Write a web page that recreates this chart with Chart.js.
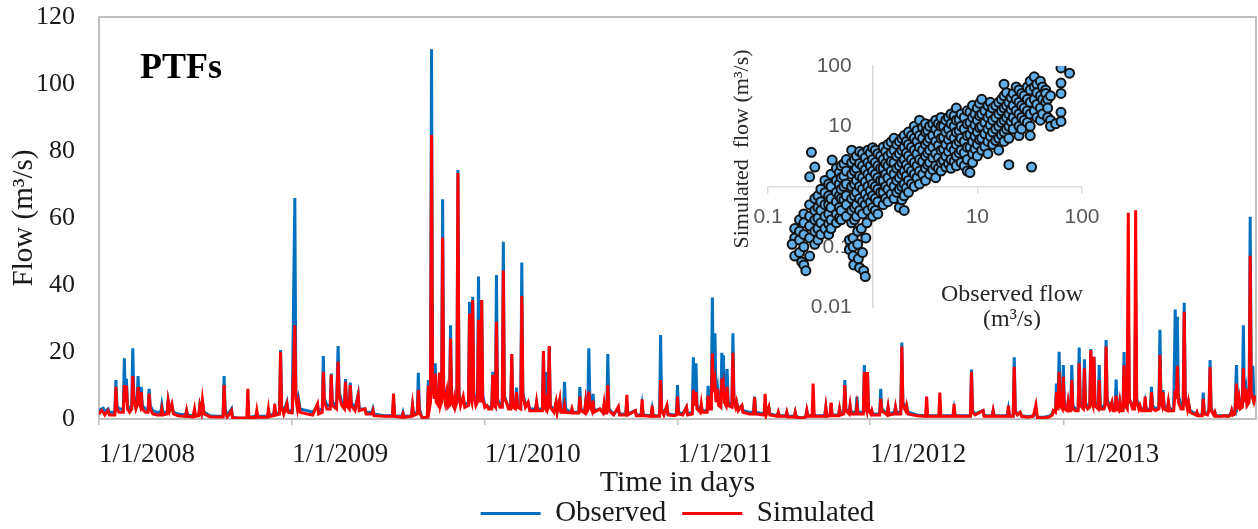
<!DOCTYPE html>
<html>
<head>
<meta charset="utf-8">
<title>PTFs – observed vs simulated flow</title>
<script src="https://cdn.jsdelivr.net/npm/chart.js@4.4.1/dist/chart.umd.min.js"></script>
<style>
  html, body { margin: 0; background: #fff; overflow: hidden; }
  #wrap { position: relative; width: 1258px; height: 529px; overflow: hidden; }
  #flow { position: absolute; left: 0; top: 0; }
  #inset { position: absolute; left: 700px; top: 30px; }
</style>
</head>
<body>
<div id="wrap">
  <canvas id="flow" width="1258" height="538"></canvas>
  <canvas id="inset" width="420" height="300"></canvas>
</div>
<script>
// days counted from 1/1/2008
const yearTicks = [0, 366, 731, 1096, 1461, 1827];
const yearLabels = ['1/1/2008', '1/1/2009', '1/1/2010', '1/1/2011', '1/1/2012', '1/1/2013'];

// [day, flow m3/s]
const observed = [
  [0,2.5],[5,3],[8,3.2],[11,2.2],[17,3],[20,2],[30,2],[32,11.6],[34,4],[38,3],[46,3],[48,18.1],[50,6],[52,12],[54,4],[58,3],[62,4],[64,21.1],[66,7],[70,4],[72,5],[74,12.8],[76,6],[78,5],[80,9.6],[82,4],[88,3],[93,3],[95,9],[97,4],
  [102,2.5],[110,2],[117,2],[119,4.2],[121,2],[129,2],[131,5.5],[134,3],[138,4],[141,2],[150,1.5],[164,1.2],[166,2.5],[168,1.2],[178,1],[181,2],[183,1],[189,1.2],[191,4],[194,2],[196,5],[199,2],
  [210,1],[225,0.8],[235,0.8],[237,12.8],[239,3],[243,1],[251,3],[253,0.5],[265,0.2],[280,0.3],[282,2],[284,0.5],[297,0.8],[299,2],[301,0.8],[319,0.8],[321,2],[323,1],[331,1.5],[333,3],[335,1.5],[342,2],[344,20.6],[346,4],[350,2],[356,5],[358,2.5],[366,2.5],
  [371,66],[373,8],[376,4],[378,6],[381,3],[395,2.5],[405,2],[414,4],[416,2.5],[423,3],[425,18.8],[427,6],[432,4],[438,4],[440,13.6],[442,5],[450,4],[453,21.8],[455,8],[460,5],[465,4],[467,11.9],[469,5],[474,4],[476,10.9],[478,5],[485,3],[491,7.4],[493,3],
  [504,3],[506,2],[517,2],[519,3],[521,1.5],[540,1],[556,1],[558,6],[560,1],[574,0.8],[576,2],[578,0.8],[592,1],[594,4],[596,1.5],[603,2],[605,13.8],[607,3],[612,0.5],[620,0.3],[622,1],[624,11.6],[626,4],[628,6],
  [630,110.4],[632,12],[635,8],[637,16.6],[639,6],[643,5],[645,12],[647,5],[649,6],[651,65.6],[653,10],[656,6],[659,8],[661,4],[664,5],[666,28],[668,6],[671,5],[673,6],[675,4],[678,6],[680,74.3],[682,8],[685,5],[690,6],[693,4],
  [700,5],[702,35],[704,7],[706,6],[708,36.5],[710,8],[714,5],[717,6],[719,42.5],[721,8],[723,6],[725,35.5],[727,7],[731,4],[735,4],[738,3.5],[744,3.5],[746,14.1],[748,5],[751,4],[753,43],[755,6],[760,4],[764,4],[766,52.9],[768,7],[772,5],[776,3.5],[780,3.5],[782,19.4],[784,4],[789,3.5],[791,9.4],[793,4],[799,3.5],
  [801,46.7],[803,8],[808,4],[813,5],[816,3],[827,3],[829,5],[831,3],[840,3],[842,20],[844,4],[846,3.5],[848,14],[850,4],[851,4],[853,21.5],[855,4],[862,2.5],[866,5],[868,2.5],[873,5],[875,2.5],[880,2.5],[882,11.1],[884,3],[894,2],[896,3],[898,2],
  [909,2],[911,9.5],[913,3],[920,2],[922,5],[924,2.5],[926,3],[928,21.1],[930,5],[934,3],[936,7.5],[938,2.5],[949,3],[955,2],[957,4],[959,2],[962,2],[964,19.4],[966,3],[975,1.5],[984,3],[986,1.5],[998,1.5],
  [1000,5],[1002,1.5],[1016,2.5],[1018,1.2],[1027,1.2],[1029,4],[1031,1.2],[1046,1],[1048,3],[1050,1],[1062,1],[1064,25.1],[1066,3],[1070,1.5],[1076,4],[1078,1.5],[1090,1.2],[1094,1.5],[1096,10.1],[1098,2],
  [1106,1.5],[1113,3.5],[1115,1.5],[1124,2],[1126,18.4],[1128,5],[1131,16.6],[1133,4],[1139,2.5],[1141,4],[1143,2.5],[1152,2.5],[1154,9.9],[1156,4],[1160,3.5],[1162,36.3],[1164,10],[1167,25.6],[1169,6],[1172,9],[1174,5],[1178,4],[1180,19.8],[1181,10],[1183,19],[1185,6],[1188,5],[1190,14.9],[1192,5],[1199,4],
  [1201,25.6],[1203,6],[1206,4],[1208,5],[1211,3],[1218,4],[1220,2.5],[1232,2],[1240,2],[1242,6.7],[1244,2],[1260,1.5],[1262,4],[1264,1.5],[1269,3.5],[1271,1.5],[1285,1],[1287,2],[1289,1],
  [1301,1],[1303,2],[1305,0.8],[1317,0.8],[1319,2],[1321,0.7],[1331,0.3],[1339,0.8],[1341,2.5],[1343,1],[1351,1],[1353,3],[1355,1],[1375,1],[1377,3.5],[1379,1],[1385,1.2],[1387,4.5],[1389,1.2],
  [1401,1.2],[1403,3],[1405,1.5],[1411,2],[1413,11.6],[1415,3],[1421,2],[1423,4],[1425,2],[1434,2],[1436,6.7],[1438,2],[1448,2],[1450,16.1],[1452,4],[1454,3],[1456,14],[1458,3],[1462,2],[1464,2.5],[1466,1.5],[1479,1.5],[1481,9],[1483,3],[1493,1.5],[1495,3.5],[1497,1.5],
  [1507,2],[1509,3.5],[1511,2],[1519,2],[1521,22.8],[1523,5],[1528,3],[1530,4],[1533,2],[1550,1.2],[1566,1],[1568,2],[1570,1],[1591,1],[1593,2],[1595,1],
  [1618,1],[1620,3],[1622,1],[1640,1],[1651,1],[1653,14.8],[1655,2.5],[1660,1.5],[1675,2.5],[1677,1],[1692,1],[1694,2.5],[1696,1],
  [1721,1],[1723,3],[1725,1],[1732,1],[1734,18.4],[1736,2.5],[1740,1.5],[1745,2],[1748,1],[1760,0.7],[1770,1],[1775,2],[1778,0.5],[1789,0.5],
  [1800,0.8],[1806,1.5],[1808,2.5],[1812,2.5],[1814,10.6],[1816,4],[1817,4],[1819,20.1],[1821,5],[1825,4],[1827,16.1],[1829,4],[1834,3],[1836,5],[1838,3],[1841,3],[1843,16.1],[1845,4],[1850,3],[1855,3],[1857,21.3],[1859,5],[1865,4],[1867,17.8],[1869,5],[1873,3.5],[1877,4],[1879,20.9],[1881,6],[1883,5],[1885,18.6],[1887,5],[1893,3.5],[1895,16.1],[1897,4],
  [1904,3.5],[1906,5],[1908,23.6],[1910,6],[1915,3.5],[1919,5],[1921,3],[1925,3],[1927,11.8],[1929,4],[1932,3],[1934,5],[1936,3],[1940,3],[1942,20],[1944,5],[1948,4],[1950,35],[1952,6],[1955,5],[1958,4],[1962,4],[1964,35],[1966,6],[1970,3.5],[1972,4],[1975,3],[1980,3],[1982,5],[1984,3],[1992,3],[1994,9.6],[1996,4],
  [2002,3],[2008,3.5],[2010,26.6],[2012,6],[2014,5],[2016,8.6],[2018,4],[2024,3],[2026,5],[2028,3],[2036,3],[2039,32.7],[2041,10],[2043,30.5],[2045,7],[2050,4],[2054,4],[2056,34.7],[2058,7],[2062,4],[2064,5],[2067,2.5],[2078,1.5],[2080,2],[2082,1.2],[2090,1.2],[2092,7.9],[2094,2],
  [2100,1.5],[2103,3],[2105,17.6],[2107,3],[2112,1.5],[2114,2],[2116,1],[2128,1],[2130,1],[2140,1],[2144,1.5],[2146,2.5],[2148,1.5],[2152,2],[2155,16.1],[2157,4],[2160,6],[2162,3.5],[2166,4],[2168,28],[2170,6],[2173,9],[2175,5],[2179,6],[2181,60.4],[2183,10],[2186,15.9],[2188,6],[2191,7]
];

const simulated = [
  [0,1.5],[5,2.5],[8,2],[11,1.2],[17,2.5],[20,1.2],[30,1.2],[32,9.6],[34,3],[38,2],[46,2],[48,10.1],[50,5],[52,10],[54,3],[58,2],[62,3],[64,12.8],[66,6],[70,3],[72,4],[74,9.5],[76,5],[78,4],[80,8],[82,3],[88,2],[93,2],[95,7.6],[97,3],
  [102,1.5],[110,1.2],[117,1.2],[119,3],[121,1.2],[129,1.5],[131,5.4],[134,2.5],[138,4.5],[141,1.5],[150,1],[164,0.8],[166,2.5],[168,0.8],[178,0.6],[181,3],[183,0.8],[189,1],[191,4],[194,2],[196,5.5],[199,1.5],
  [210,0.7],[225,0.6],[235,0.6],[237,10.1],[239,2],[243,0.5],[251,2.5],[253,0.3],[265,0.3],[280,0.3],[282,9],[284,0.5],[297,0.4],[299,2.5],[301,0.5],[319,0.5],[321,3],[323,0.7],[331,1],[333,4.5],[335,1.2],[342,1.5],[344,20.1],[346,3.5],[350,1.5],[356,4.5],[358,2],[366,1.8],
  [371,28],[373,6],[376,3],[378,5],[381,2],[395,1.5],[405,1.2],[414,4.5],[416,1.5],[423,2],[425,14.1],[427,5],[432,3],[438,3],[440,13.3],[442,4],[450,3],[453,17.1],[455,7],[460,4],[465,3],[467,11.1],[469,4],[474,3],[476,10.1],[478,4],[485,2.5],[491,7],[493,2.5],
  [504,3],[506,1.5],[517,1.5],[519,2.5],[521,1],[540,0.8],[556,0.8],[558,7.6],[560,0.8],[574,0.5],[576,1.5],[578,0.5],[592,0.8],[594,4],[596,1],[603,1.5],[605,8.7],[607,2],[612,0.5],[620,0.4],[622,1],[624,10],[626,3],[628,5],
  [630,84.8],[632,10],[635,6],[637,13.6],[639,5],[643,4],[645,13.9],[647,4],[649,5],[651,54.2],[653,8],[656,5],[659,8],[661,3.5],[664,4],[666,24],[668,5],[671,4],[673,6],[675,3.5],[678,5],[680,73.4],[682,7],[685,4],[690,6.7],[693,3.5],
  [700,4],[702,31.5],[704,6],[706,5],[708,35.5],[710,7],[714,4],[717,5],[719,29.6],[721,7],[723,5],[725,35.5],[727,6],[731,3.5],[735,4],[738,3],[744,3],[746,13.1],[748,4],[751,3.5],[753,29],[755,5],[760,3.5],[764,3.5],[766,44.3],[768,6],[772,5],[776,3],[780,3],[782,19.4],[784,3.5],[789,3],[791,8],[793,3.5],[799,3],
  [801,36.7],[803,7],[808,3.5],[813,5],[816,2.5],[827,2.5],[829,5],[831,2.5],[840,2.5],[842,20.3],[844,3.5],[846,3],[848,5],[850,3],[851,3.5],[853,21.8],[855,3.5],[862,2],[866,5],[868,2],[873,6],[875,2],[880,2],[882,4],[884,2],[894,1.8],[896,3],[898,1.8],
  [909,1.8],[911,6.7],[913,2.5],[920,1.8],[922,5],[924,2],[926,2.5],[928,8.2],[930,4],[934,2.5],[936,5.5],[938,2],[949,3],[955,1.8],[957,4.5],[959,1.8],[962,1.8],[964,10.1],[966,2.5],[975,1.2],[984,3.7],[986,1.2],[998,1.2],
  [1000,7.2],[1002,1.2],[1016,2.5],[1018,1],[1027,1],[1029,5.9],[1031,1],[1046,0.8],[1048,4],[1050,0.8],[1062,0.8],[1064,11.6],[1066,2.5],[1070,1.2],[1076,4],[1078,1.2],[1090,1],[1094,1.2],[1096,6.7],[1098,1.5],
  [1106,1.2],[1113,3.5],[1115,1.2],[1124,1.5],[1126,8.7],[1128,4],[1131,8],[1133,3],[1139,2],[1141,4.5],[1143,2],[1152,2],[1154,7],[1156,3],[1160,3],[1162,19.6],[1164,8],[1167,11],[1169,5],[1172,9],[1174,4],[1178,3.5],[1180,12.1],[1181,8],[1183,10],[1185,5],[1188,4],[1190,9.6],[1192,4],[1199,3.5],
  [1201,19.8],[1203,5],[1206,3.5],[1208,5],[1211,2.5],[1218,4],[1220,2],[1232,1.5],[1240,1.5],[1242,6.5],[1244,1.5],[1260,1.2],[1262,7.5],[1264,1.2],[1269,3.5],[1271,1.2],[1285,0.8],[1287,2],[1289,0.8],
  [1301,0.8],[1303,2],[1305,0.6],[1317,0.6],[1319,2],[1321,0.5],[1331,0.3],[1339,0.6],[1341,2.5],[1343,0.8],[1351,0.8],[1353,10.6],[1355,0.8],[1375,0.8],[1377,3.5],[1379,0.8],[1385,1],[1387,4.9],[1389,1],
  [1401,1],[1403,3],[1405,1.2],[1411,1.5],[1413,10.1],[1415,2.5],[1421,1.5],[1423,4],[1425,1.5],[1434,1.5],[1436,4],[1438,1.5],[1448,1.5],[1450,14.1],[1452,3.5],[1454,2.5],[1456,14],[1458,2.5],[1462,1.5],[1464,2.5],[1466,1.2],[1479,1.2],[1481,6],[1483,2.5],[1493,1.2],[1495,3.5],[1497,1.2],
  [1507,1.5],[1509,3.5],[1511,1.5],[1519,1.5],[1521,21.6],[1523,4],[1528,2.5],[1530,4],[1533,1.5],[1550,1],[1566,0.8],[1568,6.7],[1570,0.8],[1591,0.8],[1593,7.9],[1595,0.8],
  [1618,0.8],[1620,4.5],[1622,0.8],[1640,0.8],[1651,0.8],[1653,14.1],[1655,2],[1660,1.2],[1675,2.5],[1677,0.8],[1692,0.8],[1694,2.5],[1696,0.8],
  [1721,0.8],[1723,4],[1725,0.8],[1732,0.8],[1734,15.6],[1736,2],[1740,1.2],[1745,2],[1748,0.8],[1760,0.5],[1770,0.8],[1775,4.2],[1778,0.4],[1789,0.4],
  [1800,0.6],[1806,1.2],[1808,2.5],[1812,2],[1814,8],[1816,3],[1817,3],[1819,14.1],[1821,4],[1825,3],[1827,12.6],[1829,3],[1834,2.5],[1836,5],[1838,2.5],[1841,2.5],[1843,11.6],[1845,3],[1850,2.5],[1855,2.5],[1857,16.6],[1859,4],[1865,3],[1867,15.1],[1869,4],[1873,3],[1877,3.5],[1879,20.6],[1881,5],[1883,4],[1885,18.6],[1887,4],[1893,3],[1895,11.6],[1897,3],
  [1904,3],[1906,4],[1908,21.6],[1910,5],[1915,3],[1919,5],[1921,2.5],[1925,2.5],[1927,7],[1929,3],[1932,2.5],[1934,5],[1936,2.5],[1940,2.5],[1942,16],[1944,4],[1948,3],[1950,61.6],[1952,5],[1955,5],[1958,3],[1962,3],[1964,62.3],[1966,5],[1970,3],[1972,4],[1975,2.5],[1980,2.5],[1982,6.7],[1984,2.5],[1992,2.5],[1994,8],[1996,3],
  [2002,2.5],[2008,3],[2010,19.1],[2012,5],[2014,4],[2016,8],[2018,3],[2024,2.5],[2026,5],[2028,2.5],[2036,2.5],[2039,8.6],[2041,6],[2043,15.9],[2045,5],[2050,3],[2054,3],[2056,32],[2058,6],[2062,3],[2064,5],[2067,2],[2078,1.2],[2080,2],[2082,1],[2090,1],[2092,6],[2094,1.5],
  [2100,1.2],[2103,2.5],[2105,15.4],[2107,2.5],[2112,1.2],[2114,2],[2116,0.8],[2128,0.8],[2130,1],[2140,0.8],[2144,1.2],[2146,2.5],[2148,1.2],[2152,1.5],[2155,10.6],[2157,3],[2160,6],[2162,3],[2166,3.5],[2168,15.1],[2170,5],[2173,9],[2175,4],[2179,5],[2181,48.7],[2183,8],[2186,6],[2188,5],[2191,7]
];

// inset: [observed, simulated] daily pairs (log-log)
const scatterPoints = [
  [0.18,0.2],[0.18,0.14],[0.17,0.11],[0.18,0.07],
  [0.2,0.28],[0.2,0.18],[0.2,0.13],[0.2,0.08],[0.21,0.056],
  [0.22,0.35],[0.22,0.25],[0.22,0.16],[0.22,0.1],[0.22,0.05],[0.23,0.04],
  [0.25,1.45],[0.25,0.5],[0.25,0.32],[0.25,0.22],[0.25,0.14],[0.25,0.07],[0.26,3.7],
  [0.28,2.1],[0.28,0.63],[0.28,0.4],[0.28,0.28],[0.28,0.18],[0.28,0.11],
  [0.3,0.7],[0.3,0.45],[0.3,0.3],[0.3,0.2],[0.3,0.13],
  [0.32,0.9],[0.32,0.56],[0.32,0.4],[0.32,0.25],[0.32,0.16],
  [0.35,1.26],[0.35,0.79],[0.35,0.5],[0.35,0.32],[0.35,0.2],
  [0.38,1.1],[0.38,0.7],[0.38,0.5],[0.38,0.35],[0.38,0.24],[0.38,0.16],
  [0.41,2.75],[0.4,1.6],[0.4,1.0],[0.4,0.63],[0.4,0.45],[0.4,0.28],[0.4,0.2],
  [0.45,2.0],[0.45,1.26],[0.45,0.8],[0.45,0.56],[0.45,0.35],[0.45,0.25],
  [0.48,1.7],[0.48,1.1],[0.48,0.7],[0.48,0.45],[0.48,0.3],
  [0.5,2.2],[0.5,1.4],[0.5,0.9],[0.5,0.63],[0.5,0.4],[0.5,0.28],
  [0.53,2.4],[0.53,1.5],[0.53,1.0],[0.53,0.6],
  [0.56,2.8],[0.56,1.8],[0.56,1.1],[0.56,0.7],[0.56,0.5],[0.56,0.32],[0.6,0.13],[0.6,0.09],
  [0.63,4.0],[0.63,2.5],[0.63,1.6],[0.63,1.0],[0.63,0.63],[0.63,0.4],[0.63,0.25],[0.65,0.14],[0.65,0.1],[0.65,0.07],[0.66,0.05],
  [0.67,2.8],[0.67,1.8],[0.67,1.1],[0.67,0.7],[0.67,0.45],[0.67,0.28],
  [0.7,3.2],[0.7,2.0],[0.7,1.26],[0.7,0.8],[0.7,0.5],[0.7,0.32],[0.72,0.18],[0.72,0.11],[0.73,0.063],[0.75,0.045],
  [0.75,3.8],[0.75,2.4],[0.75,1.5],[0.75,1.0],[0.75,0.63],[0.75,0.4],
  [0.8,3.5],[0.8,2.2],[0.8,1.4],[0.8,0.9],[0.8,0.56],[0.8,0.35],[0.78,0.2],[0.8,0.08],[0.82,0.04],[0.85,0.032],
  [0.85,3],[0.85,1.9],[0.85,1.2],[0.85,0.75],[0.85,0.5],
  [0.9,4.0],[0.9,2.5],[0.9,1.6],[0.9,1.0],[0.9,0.63],[0.9,0.4],[0.88,0.25],[0.86,0.14],
  [0.95,3.6],[0.95,2.2],[0.95,1.4],[0.95,0.85],[0.95,0.55],
  [1.0,4.4],[1.0,2.8],[1.0,1.8],[1.0,1.1],[1.0,0.7],[1.0,0.45],[1.0,0.32],
  [1.06,4],[1.06,2.5],[1.06,1.6],[1.06,1],[1.06,0.63],[1.06,0.4],
  [1.12,3.5],[1.12,2.2],[1.12,1.4],[1.12,0.9],[1.12,0.56],[1.12,0.35],
  [1.19,3.2],[1.19,2],[1.19,1.26],[1.19,0.8],
  [1.26,4.5],[1.26,2.8],[1.26,2.0],[1.26,1.26],[1.26,0.8],[1.26,0.5],
  [1.33,3.8],[1.33,2.4],[1.33,1.6],[1.33,1],[1.33,0.63],
  [1.4,5],[1.4,3.2],[1.4,2.2],[1.4,1.4],[1.4,0.9],[1.4,0.56],
  [1.5,5.5],[1.5,3.6],[1.5,2.6],[1.5,1.8],[1.5,1.15],[1.5,0.75],
  [1.6,6.3],[1.6,4],[1.6,2.5],[1.6,1.6],[1.6,1],[1.6,0.63],
  [1.7,5],[1.7,3.2],[1.7,2],[1.7,1.26],[1.7,0.8],
  [1.8,5.6],[1.8,3.5],[1.8,2.2],[1.8,1.4],[1.8,0.9],[1.8,0.45],
  [1.9,6.3],[1.9,4],[1.9,2.5],[1.9,1.6],[1.9,1],[1.9,0.6],
  [2,7],[2,4.5],[2,2.8],[2,1.8],[2,1.1],[2,0.7],[2,0.4],
  [2.1,5.6],[2.1,3.6],[2.1,2.3],[2.1,1.5],[2.1,0.95],
  [2.2,8],[2.2,5],[2.2,3.2],[2.2,2],[2.2,1.26],[2.2,0.8],
  [2.35,7],[2.35,4.5],[2.35,2.8],[2.35,1.8],[2.35,1.1],
  [2.5,10],[2.5,6.3],[2.5,4],[2.5,2.5],[2.5,1.6],[2.5,1],
  [2.65,8.5],[2.65,5.6],[2.65,3.5],[2.65,2.2],[2.65,1.4],
  [2.8,12.6],[2.8,7],[2.8,4.5],[2.8,2.8],[2.8,1.8],[2.8,1.1],
  [3,9.5],[3,6.3],[3,4],[3,2.6],[3,1.6],
  [3.2,11],[3.2,8],[3.2,5],[3.2,3.2],[3.2,2],[3.2,1.26],
  [3.35,8.5],[3.35,5.6],[3.35,3.6],[3.35,2.3],
  [3.5,10],[3.5,6.3],[3.5,4],[3.5,2.5],[3.5,1.6],
  [3.75,11],[3.75,7],[3.75,4.5],[3.75,3],[3.75,1.9],
  [4,12.6],[4,9],[4,5.6],[4,3.5],[4,2.2],[4,1.4],
  [4.25,11],[4.25,7.5],[4.25,4.8],[4.25,3],[4.25,2],
  [4.5,14],[4.5,10],[4.5,6.3],[4.5,4],[4.5,2.5],[4.5,1.8],
  [4.75,10],[4.75,6.5],[4.75,4.2],[4.75,2.7],
  [5,12.6],[5,8],[5,5],[5,3.2],[5,2.1],
  [5.3,14],[5.3,9],[5.3,6],[5.3,3.8],[5.3,2.4],
  [5.6,16],[5.6,11],[5.6,7],[5.6,4.5],[5.6,2.8],[5.6,2],
  [6,15],[6,10],[6,6.3],[6,4],[6,2.6],
  [6.3,20],[6.3,12.6],[6.3,8],[6.3,5],[6.3,3.2],[6.3,2.2],
  [6.7,13],[6.7,8.5],[6.7,5.6],[6.7,3.6],
  [7,16],[7,10],[7,6.3],[7,4],[7,2.5],
  [7.5,14],[7.5,9],[7.5,5.6],[7.5,3.6],[7.5,2.2],
  [8,18],[8,11],[8,7],[8,4.5],[8,2.8],[8,1.8],[8.5,1.7],
  [8.5,17],[8.5,11.5],[8.5,7.3],[8.5,4.5],
  [9,22],[9,14],[9,9],[9,5.6],[9,3.5],[9,2.5],
  [9.5,16],[9.5,10.5],[9.5,6.8],[9.5,4.2],
  [10,20],[10,12.6],[10,8],[10,5],[10,3.2],
  [10.5,24],[10.5,15],[10.5,9.5],[10.5,6],
  [11,28],[11,16],[11,10],[11,6.3],[11,4],
  [11.8,18],[11.8,11.5],[11.8,7.5],[11.8,4.6],
  [12.6,22],[12.6,14],[12.6,9],[12.6,5.6],[12.6,3.5],
  [13.3,25],[13.3,16],[13.3,10.5],[13.3,6.8],
  [14,20],[14,12.6],[14,8],[14,5],
  [15,22],[15,14],[15,9],[15,5.8],
  [16,25],[16,16],[16,10],[16,6.3],[16,4],
  [17,28],[17,18],[17,11.5],[17,7.2],
  [18,50],[18,32],[18,20],[18,12.6],[18,8],[18,5.6],
  [19,36],[19,22],[19,14],[19,9],
  [20,25],[20,16],[20,10],[20,6.3],[20,2.3],
  [21,30],[21,19],[21,12],
  [22,35],[22,22],[22,14],[22,9],
  [23.5,45],[23.5,28],[23.5,18],[23.5,12],
  [25,40],[25,25],[25,16],[25,10],[25,7],
  [26.5,35],[26.5,22],[26.5,14],[26.5,9],
  [28,32],[28,20],[28,12.6],
  [30,45],[30,28],[30,18],[30,11.5],
  [32,56],[32,40],[32,25],[32,16],[32,10],[32,7],[33,2.1],
  [35,66],[35,45],[35,28],[35,18],
  [37,50],[37,36],[37,23],[37,14],
  [40,56],[40,32],[40,20],[40,12.6],
  [42,45],[42,28],[42,16],
  [45,40],[45,25],[45,35],
  [47,28],[47,20],[47,14],
  [50,32],[50,12.6],[50,10],[56,11],
  [63,93],[63,52],[63,35],[63,17],[63,12],[76,76]
];
const insetXTicks = [0.1, 1, 10, 100];
const insetYTicks = [0.01, 0.1, 1, 10, 100];

const serif = '"Liberation Serif", "Times New Roman", serif';
const sans = '"Liberation Sans", Arial, sans-serif';
const ink = '#1a1a1a';

// grey box round the plot area + the panel label
const framePlugin = {
  id: 'frame',
  beforeDatasetsDraw(chart) {
    const { ctx, chartArea: a } = chart;
    ctx.save();
    ctx.strokeStyle = '#c0c0c0';
    ctx.lineWidth = 2;
    ctx.strokeRect(a.left, a.top, a.right - a.left, a.bottom - a.top);
    ctx.restore();
  },
  afterDraw(chart) {
    const { ctx, chartArea: a } = chart;
    ctx.save();
    ctx.fillStyle = '#000';
    ctx.font = 'bold 36px ' + serif;
    ctx.textBaseline = 'alphabetic';
    ctx.fillText('PTFs', a.left + 41, 78);
    ctx.restore();
  }
};

new Chart(document.getElementById('flow'), {
  type: 'line',
  data: {
    datasets: [
      {
        label: 'Observed',
        data: observed.map(p => ({ x: p[0], y: p[1] })),
        borderColor: '#0070c0',
        backgroundColor: '#0070c0',
        borderWidth: 3,
        pointRadius: 0,
        tension: 0,
        order: 1
      },
      {
        label: 'Simulated',
        data: simulated.map(p => ({ x: p[0], y: p[1] })),
        borderColor: '#ff0000',
        backgroundColor: '#ff0000',
        borderWidth: 3,
        pointRadius: 0,
        tension: 0,
        order: 0
      }
    ]
  },
  options: {
    responsive: false,
    animation: false,
    layout: { padding: { top: 17, right: 2, bottom: 0, left: 0 } },
    plugins: {
      tooltip: { enabled: false },
      legend: {
        position: 'bottom',
        fullSize: false,
        labels: {
          usePointStyle: true,
          pointStyle: 'line',
          pointStyleWidth: 60,
          padding: 16,
          color: ink,
          font: { family: serif, size: 29 },
          sort: (a, b) => a.datasetIndex - b.datasetIndex
        }
      }
    },
    scales: {
      x: {
        type: 'linear',
        min: 0,
        max: 2192,
        afterBuildTicks: s => { s.ticks = yearTicks.map(v => ({ value: v })); },
        afterFit: s => { s.height = 64; },
        ticks: {
          align: 'start',
          maxRotation: 0,
          autoSkip: false,
          padding: 14,
          color: ink,
          font: { family: serif, size: 27 },
          callback: v => yearLabels[yearTicks.indexOf(v)]
        },
        grid: { drawOnChartArea: false, tickLength: 6, color: '#c0c0c0', lineWidth: 1.5 },
        border: { display: false },
        title: {
          display: true,
          text: 'Time in days',
          color: ink,
          font: { family: serif, size: 30, lineHeight: 1 },
          padding: { top: 0, bottom: -15 }
        }
      },
      y: {
        min: 0,
        max: 120,
        afterFit: s => { s.width = 99; },
        // invisible tick marks give the gap between labels and the axis
        ticks: { stepSize: 20, padding: 0, color: ink, font: { family: serif, size: 26 } },
        grid: { drawOnChartArea: false, drawTicks: true, tickLength: 24, color: 'rgba(0,0,0,0)' },
        border: { display: false },
        title: {
          display: true,
          text: 'Flow (m³/s)',
          color: ink,
          font: { family: serif, size: 29, lineHeight: 1 },
          padding: { top: 10, bottom: 0 }
        }
      }
    }
  },
  plugins: [framePlugin]
});

// inset axis titles
const insetTitles = {
  id: 'insetTitles',
  afterDraw(chart) {
    const ctx = chart.ctx;
    ctx.save();
    ctx.fillStyle = '#262626';
    ctx.textAlign = 'center';
    ctx.textBaseline = 'middle';
    ctx.font = '24px ' + serif;
    ctx.fillText('Observed flow', 312, 265);
    ctx.fillText('(m³/s)', 312, 290);
    ctx.translate(42, 119);
    ctx.rotate(-Math.PI / 2);
    ctx.font = '22px ' + serif;
    ctx.fillText('Simulated  flow (m³/s)', 0, 0);
    ctx.restore();
  }
};

new Chart(document.getElementById('inset'), {
  type: 'scatter',
  data: {
    datasets: [{
      data: scatterPoints.map(p => ({ x: p[0], y: p[1] })),
      backgroundColor: '#62aee8',
      borderColor: '#111',
      borderWidth: 2,
      pointRadius: 4.5
    }]
  },
  options: {
    responsive: false,
    animation: false,
    layout: { padding: { left: 68, right: 38, top: 36, bottom: 23 } },
    plugins: { legend: { display: false }, tooltip: { enabled: false } },
    scales: {
      x: {
        type: 'logarithmic',
        min: 0.1,
        max: 100,
        position: { y: 1 },
        afterFit: s => { s.height = 0; },
        afterBuildTicks: s => { s.ticks = insetXTicks.map(v => ({ value: v })); },
        ticks: {
          padding: 12,
          color: '#595959',
          font: { family: sans, size: 21 },
          callback: v => (v === 1 ? '' : String(v))
        },
        grid: { drawOnChartArea: false, tickLength: 6, color: '#d9d9d9', lineWidth: 1.5 },
        border: { color: '#d9d9d9', width: 1.5 }
      },
      y: {
        type: 'logarithmic',
        min: 0.01,
        max: 100,
        position: { x: 1 },
        afterFit: s => { s.width = 0; },
        afterBuildTicks: s => { s.ticks = insetYTicks.map(v => ({ value: v })); },
        ticks: {
          color: '#595959',
          font: { family: sans, size: 21 },
          // em space keeps the labels clear of the crossing axis line
          callback: v => (v === 1 ? '' : String(v) + '\u2003')
        },
        grid: { display: false },
        border: { color: '#d9d9d9', width: 1.5 }
      }
    }
  },
  plugins: [insetTitles]
});
</script>
</body>
</html>
